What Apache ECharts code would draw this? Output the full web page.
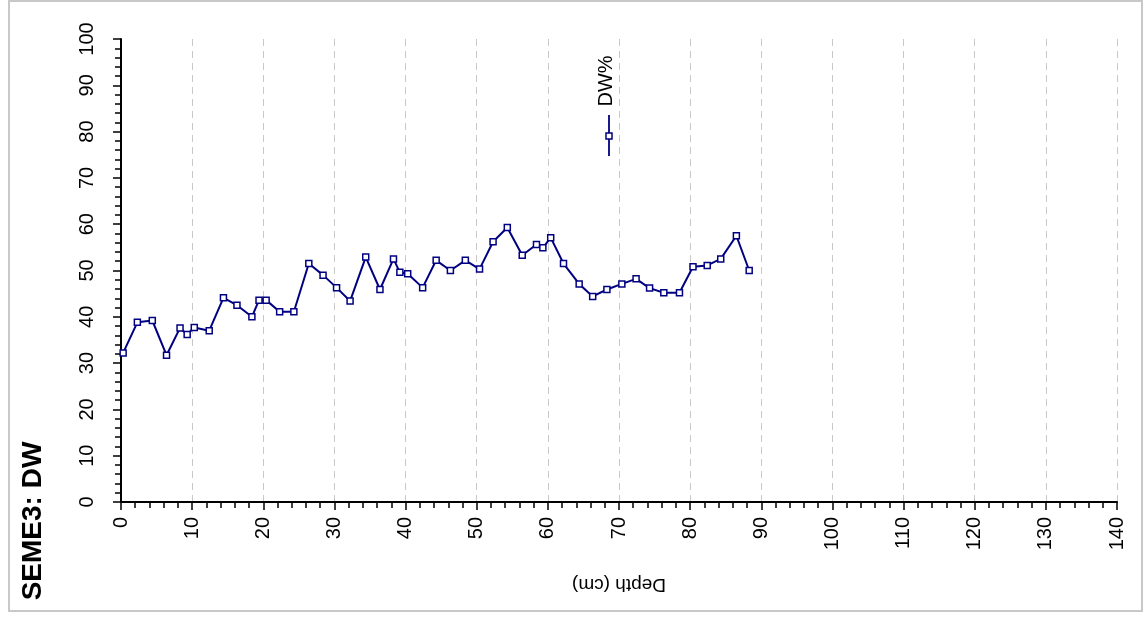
<!DOCTYPE html>
<html>
<head>
<meta charset="utf-8">
<title>SEME3: DW</title>
<script src="https://cdn.jsdelivr.net/npm/echarts@6/dist/echarts.min.js"></script>
<style>
  html, body { margin: 0; padding: 0; background: #fff; }
  #chart { width: 1144px; height: 619px; }
</style>
</head>
<body>
<div id="chart"></div>
<script>
// Core SEME3 — dry weight (%) against depth (cm)
const depthCm = [0.3, 2.3, 4.4, 6.4, 8.3, 9.3, 10.3, 12.4, 14.4, 16.3, 18.4, 19.4, 20.4, 22.3, 24.3,
  26.4, 28.4, 30.3, 32.2, 34.4, 36.4, 38.3, 39.2, 40.3, 42.4, 44.3, 46.3, 48.4, 50.4, 52.3,
  54.3, 56.4, 58.4, 59.3, 60.4, 62.2, 64.4, 66.3, 68.3, 70.4, 72.4, 74.3, 76.3, 78.5, 80.4,
  82.4, 84.3, 86.5, 88.3];
const dwPercent = [32.2, 38.8, 39.2, 31.7, 37.6, 36.2, 37.7, 37.0, 44.1, 42.5, 40.0, 43.6, 43.6, 41.1, 41.1,
  51.5, 49.0, 46.3, 43.4, 52.9, 45.9, 52.5, 49.6, 49.3, 46.3, 52.2, 50.0, 52.2, 50.3, 56.2,
  59.3, 53.3, 55.6, 54.9, 57.1, 51.5, 47.1, 44.4, 45.9, 47.1, 48.2, 46.2, 45.2, 45.2, 50.8,
  51.1, 52.5, 57.5, 50.0];
const xTicks = [0, 140, 10];   // min, max, step
const yTicks = [0, 100, 10];
const chartTitle = 'SEME3: DW';
const seriesName = 'DW%';
const xAxisName = 'Depth (cm)';

const FONT = '"Liberation Sans", Arial, sans-serif';
const NAVY = '#000080';

const chart = echarts.init(document.getElementById('chart'), null, { renderer: 'canvas' });

const axisCommon = {
  type: 'value',
  axisLine: { show: true, onZero: false, lineStyle: { color: '#000', width: 2 } },
  axisTick: { show: true, inside: false, length: 8, lineStyle: { color: '#000', width: 1.5 } },
  minorTick: { show: true, splitNumber: 5, length: 6, lineStyle: { color: '#000', width: 1.5 } },
  axisLabel: { rotate: 90, color: '#000', fontSize: 20, fontFamily: FONT }
};

chart.setOption({
  animation: false,
  backgroundColor: '#fff',
  grid: { left: 121, right: 27, top: 39, bottom: 117, containLabel: false },
  xAxis: Object.assign({}, axisCommon, {
    min: xTicks[0], max: xTicks[1], interval: xTicks[2],
    name: xAxisName,
    nameLocation: 'middle',
    nameRotate: 180,
    nameGap: 73,
    nameTextStyle: { color: '#000', fontSize: 19, fontFamily: FONT },
    axisLabel: Object.assign({}, axisCommon.axisLabel, { margin: 15 }),
    splitLine: { show: true, lineStyle: { color: '#c8c8c8', width: 1, type: [7, 5] } }
  }),
  yAxis: Object.assign({}, axisCommon, {
    min: yTicks[0], max: yTicks[1], interval: yTicks[2],
    axisLabel: Object.assign({}, axisCommon.axisLabel, { margin: 24 }),
    splitLine: { show: false }
  }),
  series: [{
    name: seriesName,
    type: 'line',
    data: depthCm.map((d, i) => [d, dwPercent[i]]),
    symbol: 'rect',
    symbolSize: 6,
    showAllSymbol: true,
    lineStyle: { color: NAVY, width: 2 },
    itemStyle: { color: '#fff', borderColor: NAVY, borderWidth: 1.5 },
    z: 5
  }],
  graphic: [
    // outer frame
    {
      type: 'rect', z: 50, silent: true,
      shape: { x: 9, y: 1, width: 1133, height: 610 },
      style: { fill: 'transparent', stroke: '#c8c8c8', lineWidth: 2 }
    },
    // legend box (blanks the grid lines behind it)
    {
      type: 'group', z: 60,
      children: [
        { type: 'rect', shape: { x: 540, y: 40, width: 100, height: 137 }, style: { fill: '#fff' } },
        { type: 'line', shape: { x1: 609, y1: 115, x2: 609, y2: 156 }, style: { stroke: NAVY, lineWidth: 1.8 } },
        { type: 'rect', shape: { x: 606, y: 133, width: 6, height: 6 }, style: { fill: '#fff', stroke: NAVY, lineWidth: 1.5 } },
        {
          type: 'text', x: 606, y: 81, rotation: Math.PI / 2,
          style: { text: seriesName, fill: '#000', font: '20px ' + FONT, align: 'center', verticalAlign: 'middle' }
        }
      ]
    },
    // chart title along the left edge
    {
      type: 'text', z: 60, x: 33, y: 521, rotation: Math.PI / 2,
      style: { text: chartTitle, fill: '#000', font: 'bold 28px ' + FONT, align: 'center', verticalAlign: 'middle' }
    }
  ]
});
</script>
</body>
</html>
